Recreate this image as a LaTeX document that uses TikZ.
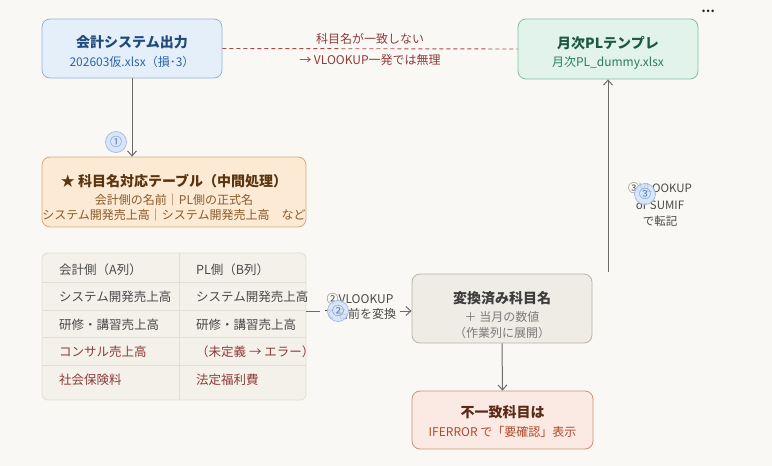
\documentclass[tikz,border=0pt]{standalone}
\usepackage{fontspec}
\setmainfont{Noto Sans CJK JP}
\usetikzlibrary{arrows.meta}
\definecolor{bgc}{HTML}{FAF8F4}
\definecolor{b1f}{HTML}{E5EFFA}\definecolor{b1d}{HTML}{8FB3DC}\definecolor{b1t}{HTML}{1F4A7A}\definecolor{b1s}{HTML}{2B64A8}
\definecolor{b2f}{HTML}{E2F3EC}\definecolor{b2d}{HTML}{7FBFA8}\definecolor{b2t}{HTML}{1D5A45}\definecolor{b2s}{HTML}{2A7A5E}
\definecolor{b3f}{HTML}{FCEAD5}\definecolor{b3d}{HTML}{D9AA7A}\definecolor{b3t}{HTML}{5A3510}\definecolor{b3s}{HTML}{8A5A2A}
\definecolor{tbf}{HTML}{F3F1EA}\definecolor{tbd}{HTML}{E2DED5}\definecolor{tbt}{HTML}{4A4A4A}\definecolor{tbr}{HTML}{8E3B3B}
\definecolor{b4f}{HTML}{EFECE5}\definecolor{b4d}{HTML}{B9B3A8}\definecolor{b4t}{HTML}{3C3C3C}\definecolor{b4s}{HTML}{7A7A7A}
\definecolor{b5f}{HTML}{FBE9E3}\definecolor{b5d}{HTML}{D28F7B}\definecolor{b5t}{HTML}{5C2A18}\definecolor{b5s}{HTML}{B0492A}
\definecolor{redl}{HTML}{A84848}\definecolor{redt}{HTML}{8E3B3B}
\definecolor{arrc}{HTML}{6B6B6B}
\definecolor{bdgf}{HTML}{D5E3F8}\definecolor{bdgd}{HTML}{9DB9E6}\definecolor{bdgt}{HTML}{4A78C4}
\tikzset{
  boxstyle/.style={draw, rounded corners=8pt, line width=0.8pt, inner sep=0pt},
  ttl/.style={font=\fontsize{14}{16}\selectfont\bfseries, inner sep=0pt},
  sub/.style={font=\fontsize{12}{14}\selectfont, inner sep=0pt},
  cell/.style={font=\fontsize{12.5}{14}\selectfont, inner sep=0pt, anchor=west},
  arr/.style={draw=arrc, line width=1pt, -{Straight Barb[length=5pt,width=9pt]}},
  badge/.style={circle, fill=bdgf, draw=bdgd, line width=0.7pt, text=bdgt, minimum size=21pt, inner sep=0pt, font=\fontsize{12}{12}\selectfont, fill opacity=0.85, text opacity=1},
  lbl/.style={font=\fontsize{12}{15}\selectfont, align=center, inner sep=0pt}
}
\begin{document}
\begin{tikzpicture}[x=1pt,y=-1pt]
\fill[bgc] (0,0) rectangle (772,466);
\useasboundingbox (0,0) rectangle (772,466);
\node at (708,11) [text=black!85, font=\fontsize{12}{12}\selectfont\bfseries, inner sep=0pt] {⋯};

% boxes
\node (box1) [boxstyle, fill=b1f, draw=b1d, minimum width=180pt, minimum height=59pt] at (132,48.5) {};
\node [ttl, text=b1t] at (132,42) {会計システム出力};
\node [sub, text=b1s] at (132,62) {202603仮.xlsx（損･3）};

\node (box2) [boxstyle, fill=b2f, draw=b2d, minimum width=180pt, minimum height=60pt] at (608,49) {};
\node [ttl, text=b2t] at (608,43) {月次PLテンプレ};
\node [sub, text=b2s] at (608,63) {月次PL\_dummy.xlsx};

\node (box3) [boxstyle, fill=b3f, draw=b3d, minimum width=264pt, minimum height=70pt] at (174,192) {};
\node [ttl, text=b3t] at (174,181) {★ 科目名対応テーブル（中間処理）};
\node [sub, text=b3s] at (174,200) {会計側の名前｜PL側の正式名};
\node [sub, text=b3s] at (174,215) {システム開発売上高｜システム開発売上高　など};

% table
\node (tbl) [draw=tbd, fill=tbf, rounded corners=6pt, line width=0.8pt, minimum width=264pt, minimum height=147pt, inner sep=0pt] at (174,326.5) {};
\foreach \yy in {282.5,310,337.5,365}{\draw[tbd, line width=0.8pt] (42,\yy) -- (306,\yy);}
\draw[tbd, line width=0.8pt] (179,253) -- (179,400);
\node [cell, text=tbt] at (59,270) {会計側（A列）};
\node [cell, text=tbt] at (196,270) {PL側（B列）};
\node [cell, text=tbt] at (59,297) {システム開発売上高};
\node [cell, text=tbt] at (196,297) {システム開発売上高};
\node [cell, text=tbt] at (59,325) {研修・講習売上高};
\node [cell, text=tbt] at (196,325) {研修・講習売上高};
\node [cell, text=tbr] at (59,352) {コンサル売上高};
\node [cell, text=tbr] at (196,352) {（未定義 → エラー）};
\node [cell, text=tbr] at (59,380) {社会保険料};
\node [cell, text=tbr] at (196,380) {法定福利費};

\node (box4) [boxstyle, fill=b4f, draw=b4d, minimum width=180pt, minimum height=69pt] at (502,308.5) {};
\node [ttl, text=b4t] at (502,298) {変換済み科目名};
\node [sub, text=b4s] at (502,317) {＋ 当月の数値};
\node [sub, text=b4s] at (502,333) {（作業列に展開）};

\node (box5) [boxstyle, fill=b5f, draw=b5d, minimum width=181pt, minimum height=58pt] at (502.5,420) {};
\node [ttl, text=b5t] at (502.5,412) {不一致科目は};
\node [sub, text=b5s] at (502.5,432) {IFERROR で「要確認」表示};

% connectors
\draw[redl, line width=0.9pt, dash pattern=on 4pt off 3pt] (box1.east) -- (box2.west);
\node [sub, text=redt] at (370,39) {科目名が一致しない};
\node [sub, text=redt] at (370,60) {→ VLOOKUP一発では無理};

\draw[arr] (box1.south) -- (box1.south |- box3.north);
\node [badge] at (116,142) {①};

\draw[arr] (tbl.east |- 0,311) -- (box4.west |- 0,311);
\node [lbl, fill=bgc, inner xsep=4pt, inner ysep=2pt, text=tbt] at (360,306) {②VLOOKUP\\で名前を変換};
\node [badge] at (338,311) {②};

\draw[arr] (box4.south) -- (box5.north);

\coordinate (c3) at (608,272);
\draw[arr] (c3) -- (box2.south);
\node [lbl, text=tbt, font=\fontsize{11.5}{16.5}\selectfont] at (660,205) {③VLOOKUP\\or SUMIF\\で転記};
\node [badge] at (645,194) {③};
\end{tikzpicture}
\end{document}
